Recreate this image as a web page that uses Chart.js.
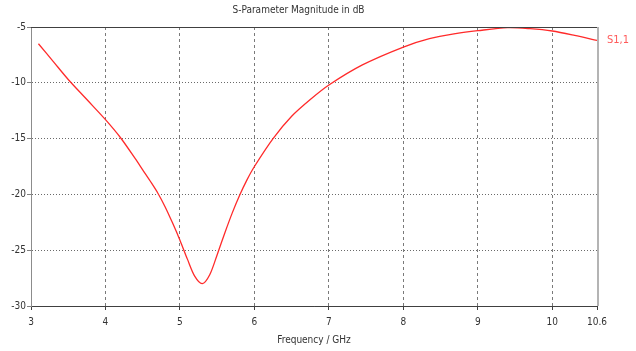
<!DOCTYPE html>
<html>
<head>
<meta charset="utf-8">
<script src="https://cdn.jsdelivr.net/npm/chart.js@4.4.1/dist/chart.umd.min.js"></script>
<style>
  html, body { margin: 0; padding: 0; background: #fff; }
  #wrap { width: 636px; height: 351px; }
</style>
</head>
<body>
<div id="wrap"><canvas id="c" width="636" height="351"></canvas></div>
<script>
const freqGHz = [3.1, 3.3, 3.5, 3.75, 4.0, 4.2, 4.4, 4.5, 4.6, 4.7, 4.8, 4.9, 5.0, 5.1, 5.2, 5.3, 5.4, 5.5, 5.6, 5.7, 5.8, 5.9, 6.0, 6.25, 6.5, 6.75, 7.0, 7.45, 8.0, 8.35, 8.7, 9.0, 9.4, 9.7, 10.0, 10.3, 10.6];
const s11dB   = [-6.5, -8.1, -9.7, -11.5, -13.3, -14.9, -16.8, -17.8, -18.8, -19.85, -21.1, -22.55, -24.1, -25.8, -27.35, -28.0, -27.2, -25.4, -23.5, -21.7, -20.1, -18.7, -17.5, -15.0, -13.0, -11.5, -10.2, -8.4, -6.8, -6.05, -5.6, -5.33, -5.06, -5.15, -5.36, -5.75, -6.2];
const xTicks = [3, 4, 5, 6, 7, 8, 9, 10, 10.6];
const yTicks = [-30, -25, -20, -15, -10, -5];
const seriesName = 'S1,1';
const chartTitle = 'S-Parameter Magnitude in dB';
const xTitle = 'Frequency / GHz';

const FONT = '"Liberation Sans Narrow", "DejaVu Sans Condensed", sans-serif';

const framePlugin = {
  id: 'frame',
  afterDraw(chart) {
    const {ctx, chartArea: a} = chart;
    ctx.save();
    ctx.strokeStyle = '#404040';
    ctx.lineWidth = 1;
    ctx.beginPath();
    ctx.moveTo(a.left, a.top + 0.5);
    ctx.lineTo(a.right, a.top + 0.5);
    ctx.stroke();
    ctx.strokeStyle = '#b4b4b4';
    ctx.lineWidth = 2;
    ctx.beginPath();
    ctx.moveTo(a.right + 1, a.top);
    ctx.lineTo(a.right + 1, a.bottom);
    ctx.stroke();
    const meta = chart.getDatasetMeta(0);
    const last = meta.data[meta.data.length - 1];
    ctx.fillStyle = '#ff5a5a';
    ctx.font = '11px ' + FONT;
    ctx.textAlign = 'left';
    ctx.textBaseline = 'middle';
    ctx.fillText(seriesName, a.right + 10, last.y);
    ctx.restore();
  }
};

new Chart(document.getElementById('c'), {
  type: 'line',
  data: {
    datasets: [{
      label: seriesName,
      data: freqGHz.map((f, i) => ({x: f, y: s11dB[i]})),
      borderColor: '#ff2a2a',
      borderWidth: 1.3,
      pointRadius: 0,
      tension: 0.3,
      fill: false
    }]
  },
  options: {
    responsive: false,
    animation: false,
    layout: { padding: { left: 0, right: 39, top: 0, bottom: 0 } },
    plugins: {
      legend: { display: false },
      tooltip: { enabled: false },
      title: {
        display: true,
        text: chartTitle,
        color: '#333',
        font: { family: FONT, size: 10, weight: 'normal' },
        padding: { top: 4, bottom: 11 }
      }
    },
    scales: {
      x: {
        type: 'linear',
        min: 3, max: 10.6,
        afterBuildTicks: s => { s.ticks = xTicks.map(v => ({value: v})); },
        afterFit: s => { s.height = 45; },
        ticks: {
          color: '#333',
          font: { family: FONT, size: 10 },
          padding: 6,
          maxRotation: 0,
          autoSkip: false,
          callback: v => String(v)
        },
        grid: {
          color: '#7a7a7a',
          lineWidth: 1,
          drawTicks: true,
          tickLength: 4,
          tickColor: '#404040'
        },
        border: { display: true, color: '#404040', width: 1, dash: [3, 3] },
        title: {
          display: true,
          text: xTitle,
          color: '#333',
          font: { family: FONT, size: 10 },
          padding: { top: 0, bottom: 5 }
        }
      },
      y: {
        type: 'linear',
        min: -30, max: -5,
        afterBuildTicks: s => { s.ticks = yTicks.map(v => ({value: v})); },
        afterFit: s => { s.width = 31; },
        ticks: {
          color: '#333',
          font: { family: FONT, size: 10 },
          padding: 1,
          callback: v => String(v)
        },
        grid: {
          color: '#6a6a6a',
          lineWidth: 1,
          drawTicks: true,
          tickLength: 4,
          tickColor: '#808080'
        },
        border: { display: true, color: '#8c8c8c', width: 1, dash: [1, 2] }
      }
    }
  },
  plugins: [framePlugin]
});
</script>
</body>
</html>
